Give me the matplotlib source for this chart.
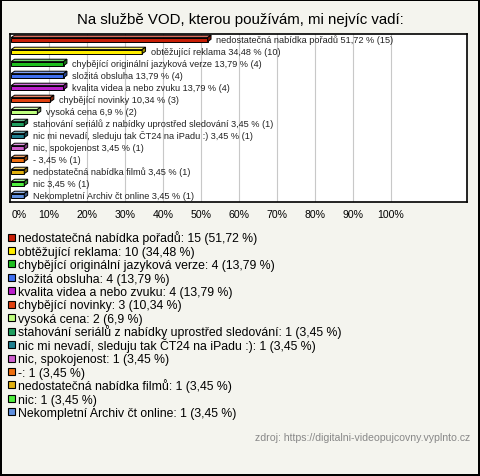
import matplotlib.pyplot as plt
from matplotlib.patches import Polygon, Rectangle

plt.rcParams['font.family'] = ['Liberation Sans', 'DejaVu Sans']

title = 'Na službě VOD, kterou používám, mi nejvíc vadí:'
answers = [
    'nedostatečná nabídka pořadů',
    'obtěžující reklama',
    'chybějící originální jazyková verze',
    'složitá obsluha',
    'kvalita videa a nebo zvuku',
    'chybějící novinky',
    'vysoká cena',
    'stahování seriálů z nabídky uprostřed sledování',
    'nic mi nevadí, sleduju tak ČT24 na iPadu :)',
    'nic, spokojenost',
    '-',
    'nedostatečná nabídka filmů',
    'nic',
    'Nekompletní Archiv čt online',
]
counts = [15, 10, 4, 4, 4, 3, 2, 1, 1, 1, 1, 1, 1, 1]
percents = [51.72, 34.48, 13.79, 13.79, 13.79, 10.34, 6.9,
            3.45, 3.45, 3.45, 3.45, 3.45, 3.45, 3.45]
colors = ['#c81e06', '#ffee00', '#1fbf1f', '#3f6fef', '#bb1fcc', '#e04010',
          '#bfff7f', '#1f9f5f', '#1f7f8f', '#cf5fcf', '#ef6f0f', '#dfaf0f',
          '#4fef3f', '#5f8fdf']
xticks = [0, 10, 20, 30, 40, 50, 60, 70, 80, 90, 100]
source = 'zdroj: https://digitalni-videopujcovny.vyplnto.cz'

W, H = 480, 477


def fmt(v):
    return ('%g' % v).replace('.', ',')


def shade(c, f):
    r, g, b = [int(c[i:i + 2], 16) for i in (1, 3, 5)]
    if f < 1:
        r, g, b = r * f, g * f, b * f
    else:
        r, g, b = [x + (255 - x) * (f - 1) for x in (r, g, b)]
    return (r / 255, g / 255, b / 255)


bg = '#f4f4ee'
fig = plt.figure(figsize=(4.8, 4.77), dpi=100, facecolor=bg)
fig.patch.set_edgecolor('black')
fig.patch.set_linewidth(1.5)

ax = fig.add_axes([10 / W, 1 - 203 / H, 457 / W, 168 / H])
ax.set_facecolor('white')
ax.set_xlim(-0.3, 120)
ax.set_ylim(13.58, -0.42)
for s in ax.spines.values():
    s.set_linewidth(1.2)
ax.set_yticks([])
ax.set_xticks(xticks)
ax.set_xticklabels(['%d%%' % t for t in xticks], fontsize=7.6)
ax.tick_params(axis='x', length=0, pad=5)
ax.get_xticklabels()[0].set_horizontalalignment('left')
for t in xticks[1:]:
    ax.axvline(t, color='#c8c8c8', lw=0.8, zorder=0)

# 3D-looking bars: front face + top face + end face
h = 0.34
dx, dy = 0.9, 0.2
for i, (p, c) in enumerate(zip(percents, colors)):
    y0, y1 = i - h / 2 + 0.05, i + h / 2 + 0.05
    ax.barh(i + 0.05, p, height=h, color=c, edgecolor='black', lw=0.7, zorder=3)
    top = Polygon([(0, y0), (dx, y0 - dy), (p + dx, y0 - dy), (p, y0)],
                  closed=True, facecolor=shade(c, 1.35), edgecolor='black', lw=0.7, zorder=3)
    side = Polygon([(p, y0), (p + dx, y0 - dy), (p + dx, y1 - dy), (p, y1)],
                   closed=True, facecolor=shade(c, 0.6), edgecolor='black', lw=0.7, zorder=3)
    ax.add_patch(top)
    ax.add_patch(side)
    ax.text(p + 2.3, i, '%s %s %% (%d)' % (answers[i], fmt(p), counts[i]),
            fontsize=6.6, va='center', ha='left', color='#222222', zorder=4)

fig.text(0.5, 1 - 20 / H, title, fontsize=10.8, ha='center', va='center')

# legend rows
for i, (a, n, p, c) in enumerate(zip(answers, counts, percents, colors)):
    yc = 238 + 13.45 * i
    fig.add_artist(Rectangle((8 / W, 1 - (yc + 3.5) / H), 7 / W, 7 / H,
                             transform=fig.transFigure, facecolor=c,
                             edgecolor='black', lw=0.8))
    fig.text(18 / W, 1 - (yc + 4.2) / H, '%s: %d (%s %%)' % (a, n, fmt(p)),
             fontsize=8.8, ha='left', va='baseline')

fig.text(1 - 10 / W, 1 - 438 / H, source, fontsize=7.6, ha='right', va='center',
         color='#888888')

fig.savefig('out.png', dpi=100, facecolor=bg, edgecolor='black')
